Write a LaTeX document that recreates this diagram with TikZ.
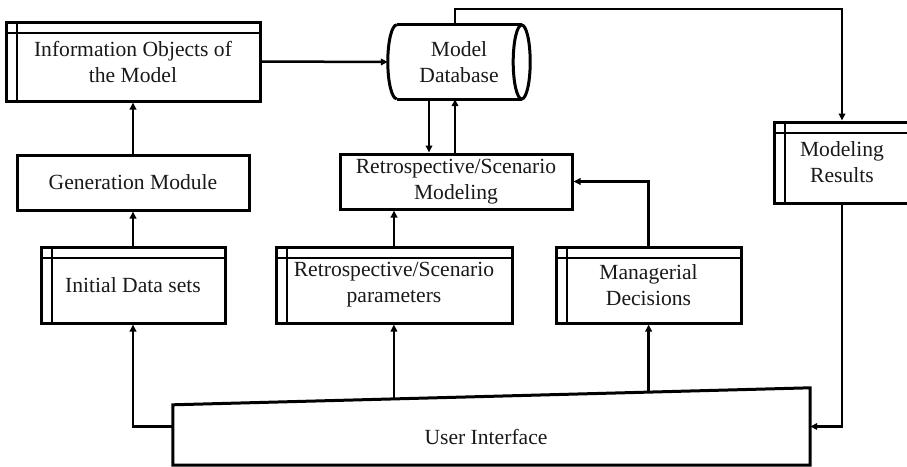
\documentclass[tikz,border=0pt]{standalone}
\usepackage{fontspec}
\setmainfont{Liberation Serif}
\usetikzlibrary{arrows.meta,calc}
\begin{document}
\begin{tikzpicture}[x=1pt,y=-1pt,
  every node/.style={font=\fontsize{21.6}{26}\selectfont, text=black!90, align=center, inner sep=0pt},
  box/.style={draw, line width=3pt, rectangle, minimum width=#1},
  store/.style={box=#1, path picture={
      \draw[line width=2.6pt] ([xshift=11pt]path picture bounding box.north west) -- ([xshift=11pt]path picture bounding box.south west);
      \draw[line width=2.6pt] ([yshift=-11pt]path picture bounding box.north west) -- ([yshift=-11pt]path picture bounding box.north east);}},
  arr/.style={line width=2.5pt, -{Triangle[length=7pt,width=6.5pt]}},
  outline/.style={line width=3pt}]
\useasboundingbox (0,0) rectangle (907,466);

\node[store=254pt, minimum height=79pt] (info) at (133,61.5) {Information Objects of\\the Model};
\node[minimum width=142pt, minimum height=74pt] (db) at (459,62) {Model\\Database};
\node[box=232pt, minimum height=55pt] (gen) at (133,182.5) {Generation Module};
\node[box=232pt, minimum height=55pt] (rsm) at (456,181.5) {Retrospective/Scenario\\Modeling};
\node[store=150pt, minimum height=81pt] (res) at (849,162.5) {};
\node (restext) at (842,162.5) {Modeling\\Results};
\node[store=184pt, minimum height=76pt] (ids) at (133,285) {Initial Data sets};
\node[store=236pt, minimum height=76pt] (rsp) at (394,285) {Retrospective/Scenario\\parameters};
\node[store=185pt, minimum height=76pt] (md) at (648.5,285) {Managerial\\Decisions};
\node[minimum width=637pt, minimum height=77pt] (ui) at (491.5,426.5) {};
\node (uitext) at (486,437) {User Interface};

% cylinder (Model Database)
\coordinate (dbtl) at ([xshift=9pt]db.north west);
\coordinate (dbtr) at ([xshift=-8.5pt]db.north east);
\coordinate (dbbr) at ([xshift=-8.5pt]db.south east);
\coordinate (dbbl) at ([xshift=9pt]db.south west);
\draw[outline] (dbtl) -- (dbtr);
\draw[outline] (dbbl) -- (dbbr);
\draw[outline] (dbtl) arc[start angle=270, end angle=90, x radius=9, y radius=37];
\draw[outline] ($(dbtr)!0.5!(dbbr)$) ellipse[x radius=8.5, y radius=37];

% User Interface (manual input shape)
\coordinate (tl) at ([yshift=-17pt]ui.north west);
\coordinate (tr) at (ui.north east);
\draw[outline] (ui.south west) -- (tl) -- (tr) -- (ui.south east) -- cycle;
\coordinate (u1) at ($(tl)!0.3469!(tr)$);
\coordinate (u2) at ($(tl)!0.7465!(tr)$);

\draw[arr] (info.east) -- (db.west);
\draw[arr] (gen.north) -- (info.south);
\draw[arr] (ids.north) -- (gen.south);
\draw[arr] ([xshift=-30pt]db.south) coordinate (d1) -- (d1 |- rsm.north);
\draw[arr] ([xshift=-1pt]rsm.north) coordinate (d2) -- (d2 |- db.south);
\draw[arr] ([xshift=-4pt]db.north) -- ++(0,-16) -| ([xshift=-7pt]res.north);
\draw[arr] (rsp.north) -- (rsp.north |- rsm.south);
\draw[arr] (md.north) |- (rsm.east);
\draw[arr] ([xshift=-7pt]res.south) |- (ui.east);
\draw[arr] (ui.west) -| (ids.south);
\draw[arr] (u1) -- (u1 |- rsp.south);
\draw[arr] (u2) -- (u2 |- md.south);
\end{tikzpicture}
\end{document}
